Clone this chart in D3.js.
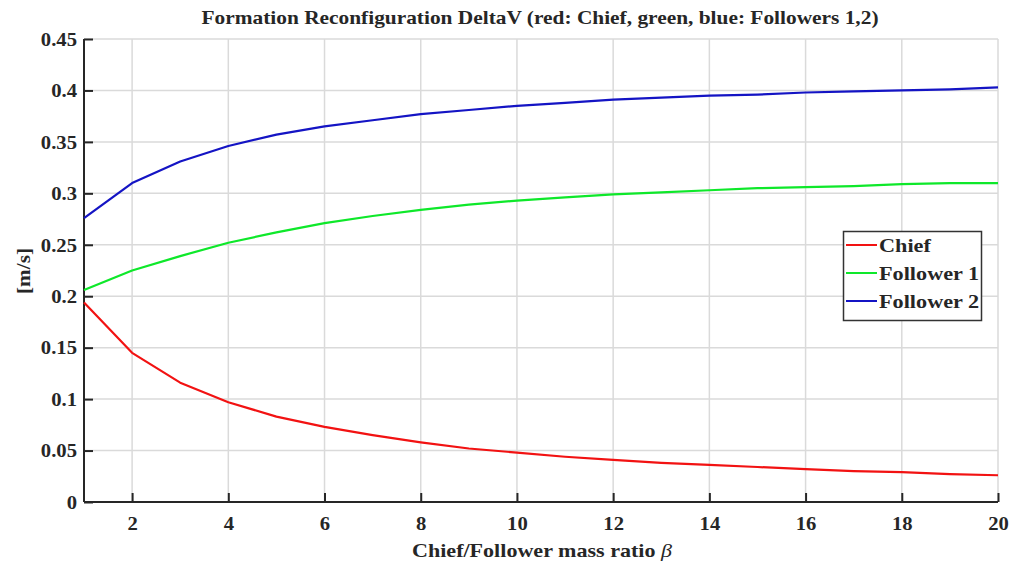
<!DOCTYPE html>
<html>
<head>
<meta charset="utf-8">
<script src="https://cdn.jsdelivr.net/npm/d3@7"></script>
<style>
  html, body { margin: 0; padding: 0; background: #ffffff; }
  svg { display: block; }
  text { font-family: "Liberation Serif", "DejaVu Serif", serif; font-weight: bold; fill: #262626; }
</style>
</head>
<body>
<svg id="chart" width="1024" height="563"></svg>
<script>
// Mass ratio beta (chief / follower)
const beta = d3.range(1, 21);

// Delta-V per spacecraft [m/s]
const chiefDV     = [0.194, 0.145, 0.116, 0.097, 0.083, 0.073, 0.065, 0.058, 0.052, 0.048,
                     0.044, 0.041, 0.038, 0.036, 0.034, 0.032, 0.030, 0.029, 0.027, 0.026];
const follower1DV = [0.206, 0.225, 0.239, 0.252, 0.262, 0.271, 0.278, 0.284, 0.289, 0.293,
                     0.296, 0.299, 0.301, 0.303, 0.305, 0.306, 0.307, 0.309, 0.310, 0.310];
const follower2DV = [0.276, 0.310, 0.331, 0.346, 0.357, 0.365, 0.371, 0.377, 0.381, 0.385,
                     0.388, 0.391, 0.393, 0.395, 0.396, 0.398, 0.399, 0.400, 0.401, 0.403];

const seriesNames  = ["Chief", "Follower 1", "Follower 2"];
const seriesColors = ["#f21212", "#0ee82a", "#1414c4"];
const xTicks = [2, 4, 6, 8, 10, 12, 14, 16, 18, 20];
const yTicks = [0, 0.05, 0.1, 0.15, 0.2, 0.25, 0.3, 0.35, 0.4, 0.45];

const titleText = "Formation Reconfiguration DeltaV (red: Chief, green, blue: Followers 1,2)";
const xLabel = "Chief/Follower mass ratio ";
const yLabel = "[m/s]";

const series = [chiefDV, follower1DV, follower2DV].map((vals, i) => ({
  name: seriesNames[i],
  color: seriesColors[i],
  points: beta.map((b, j) => ({ x: b, y: vals[j] }))
}));

const svg = d3.select("#chart");
const margin = { left: 84, right: 26, top: 39, bottom: 61 };
const W = 1024, H = 563;

const x = d3.scaleLinear().domain([1, 20]).range([margin.left, W - margin.right]);
const y = d3.scaleLinear().domain([0, 0.45]).range([H - margin.bottom, margin.top]);

// widen the serif glyphs a little (book-style face)
function widen(sel, factor) {
  sel.each(function () {
    const w = this.getComputedTextLength();
    d3.select(this).attr("textLength", w * factor).attr("lengthAdjust", "spacingAndGlyphs");
  });
}

// grid
const grid = svg.append("g").attr("stroke", "#dadada").attr("stroke-width", 1.5);
grid.selectAll("line.gx").data(xTicks).join("line")
  .attr("x1", d => x(d)).attr("x2", d => x(d))
  .attr("y1", y(0)).attr("y2", y(0.45));
grid.selectAll("line.gy").data(yTicks.filter(d => d > 0)).join("line")
  .attr("x1", x(1)).attr("x2", x(20))
  .attr("y1", d => y(d)).attr("y2", d => y(d));

// axes with inward ticks
const fmt = d => d === 0 ? "0" : String(+d.toFixed(2));
const xAxis = svg.append("g")
  .attr("transform", `translate(0,${y(0)})`)
  .call(d3.axisBottom(x).tickValues(xTicks).tickSize(-9).tickPadding(14).tickFormat(d3.format("d")));
const yAxis = svg.append("g")
  .attr("transform", `translate(${x(1)},0)`)
  .call(d3.axisLeft(y).tickValues(yTicks).tickSize(-9).tickPadding(7).tickFormat(fmt));

[xAxis, yAxis].forEach(a => {
  a.select(".domain").attr("stroke", "#262626").attr("stroke-width", 2);
  a.selectAll(".tick line").attr("stroke", "#262626").attr("stroke-width", 2);
  a.selectAll(".tick text").attr("font-size", 19.5).attr("fill", "#262626")
    .style("font-family", "'Liberation Serif', serif").style("font-weight", "bold");
  widen(a.selectAll(".tick text"), 1.06);
});
xAxis.select(".domain").attr("d", `M${x(1)},0H${x(20)}`);
yAxis.select(".domain").attr("d", `M0,${y(0)}V${y(0.45)}`);

// curves
const line = d3.line().x(d => x(d.x)).y(d => y(d.y));
svg.append("g").selectAll("path").data(series).join("path")
  .attr("d", d => line(d.points))
  .attr("fill", "none")
  .attr("stroke", d => d.color)
  .attr("stroke-width", 2.2)
  .attr("stroke-linejoin", "round");

// title
svg.append("text")
  .attr("x", 540).attr("y", 24)
  .attr("text-anchor", "middle")
  .attr("font-size", 19.5)
  .attr("textLength", 677).attr("lengthAdjust", "spacingAndGlyphs")
  .text(titleText);

// axis labels
const xl = svg.append("text")
  .attr("x", 542).attr("y", 557)
  .attr("text-anchor", "middle")
  .attr("font-size", 19.5)
  .attr("textLength", 260).attr("lengthAdjust", "spacingAndGlyphs");
xl.append("tspan").text(xLabel);
xl.append("tspan").attr("font-style", "italic").attr("font-weight", "normal").text("β");

svg.append("text")
  .attr("transform", "translate(30,271) rotate(-90)")
  .attr("text-anchor", "middle")
  .attr("font-size", 19.5)
  .attr("textLength", 46).attr("lengthAdjust", "spacingAndGlyphs")
  .text(yLabel);

// legend
const lg = svg.append("g");
lg.append("rect")
  .attr("x", 843.5).attr("y", 231.5).attr("width", 138).attr("height", 89)
  .attr("fill", "#ffffff").attr("stroke", "#333333").attr("stroke-width", 1.5);
const rowY = [245, 273, 301];
const entries = lg.selectAll("g.entry").data(series).join("g")
  .attr("transform", (d, i) => `translate(0,${rowY[i]})`);
entries.append("line")
  .attr("x1", 846).attr("x2", 877).attr("y1", 0).attr("y2", 0)
  .attr("stroke", d => d.color).attr("stroke-width", 2);
const lt = entries.append("text")
  .attr("x", 879).attr("y", 6.5)
  .attr("font-size", 19.5)
  .text(d => d.name);
widen(lt, 1.14);
</script>
</body>
</html>
